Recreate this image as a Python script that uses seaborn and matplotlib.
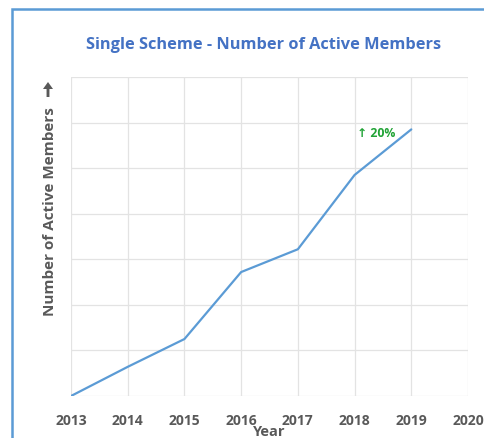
import matplotlib
matplotlib.use("Agg")
import matplotlib.pyplot as plt
import matplotlib.patches as mpatches
import seaborn as sns
import pandas as pd

years = [2013, 2014, 2015, 2016, 2017, 2018, 2019]
members = [0.0, 0.64, 1.25, 2.72, 3.22, 4.85, 5.85]
xticks = [2013, 2014, 2015, 2016, 2017, 2018, 2019, 2020]
title = "Single Scheme - Number of Active Members"
annot = "\u2191 20%"
ylabel = "Number of Active Members"

sns.set_theme(style="white")
plt.rcParams['font.family'] = ['Open Sans', 'DejaVu Sans']

fig = plt.figure(figsize=(4.85, 4.39), dpi=100)
ax = fig.add_axes([71/485, 1-397/439, (468-71)/485, (397-78)/439])

df = pd.DataFrame({"Year": years, "Members": members})
sns.lineplot(data=df, x="Year", y="Members", ax=ax, color="#5B9BD5", linewidth=1.6)

ax.set_xlim(2013, 2020)
ax.set_ylim(0, 7)
ax.set_xticks(xticks)
ax.set_xticklabels([str(t) for t in xticks], fontsize=10, fontweight="bold", color="#595959")
ax.set_yticks(range(0, 8))
ax.set_yticklabels([])
ax.tick_params(axis="both", length=0, pad=12)
ax.grid(True, color="#E3E3E3", linewidth=0.9)
for s in ax.spines.values():
    s.set_visible(False)
ax.set_xlabel("Year", fontsize=10.5, fontweight="bold", color="#595959", labelpad=-2)
ax.set_ylabel("")

fig.text(50/485, 1-212/439, ylabel, rotation=90, ha="center", va="center",
         fontsize=11, fontweight="bold", color="#595959")
arrow = mpatches.FancyArrow(48/485, 1-98/439, 0, 15/439, width=2.6/439, head_width=10/485,
                            head_length=7/439, length_includes_head=True,
                            transform=fig.transFigure, color="#595959", linewidth=0)
fig.patches.append(arrow)

ax.text(2018.05, 5.79, annot, color="#21A336", fontsize=8.8, fontweight="bold", ha="left", va="center")

fig.text(264/485, 1-45/439, title, ha="center", va="center", fontsize=11.8, fontweight="bold", color="#4472C4")

frame = mpatches.Rectangle((12/485, -0.1), 1.2, 1-10/439+0.1, transform=fig.transFigure,
                           fill=False, edgecolor="#5B9BD5", linewidth=1.8, clip_on=False)
fig.patches.append(frame)

fig.savefig("out.png", dpi=100)
